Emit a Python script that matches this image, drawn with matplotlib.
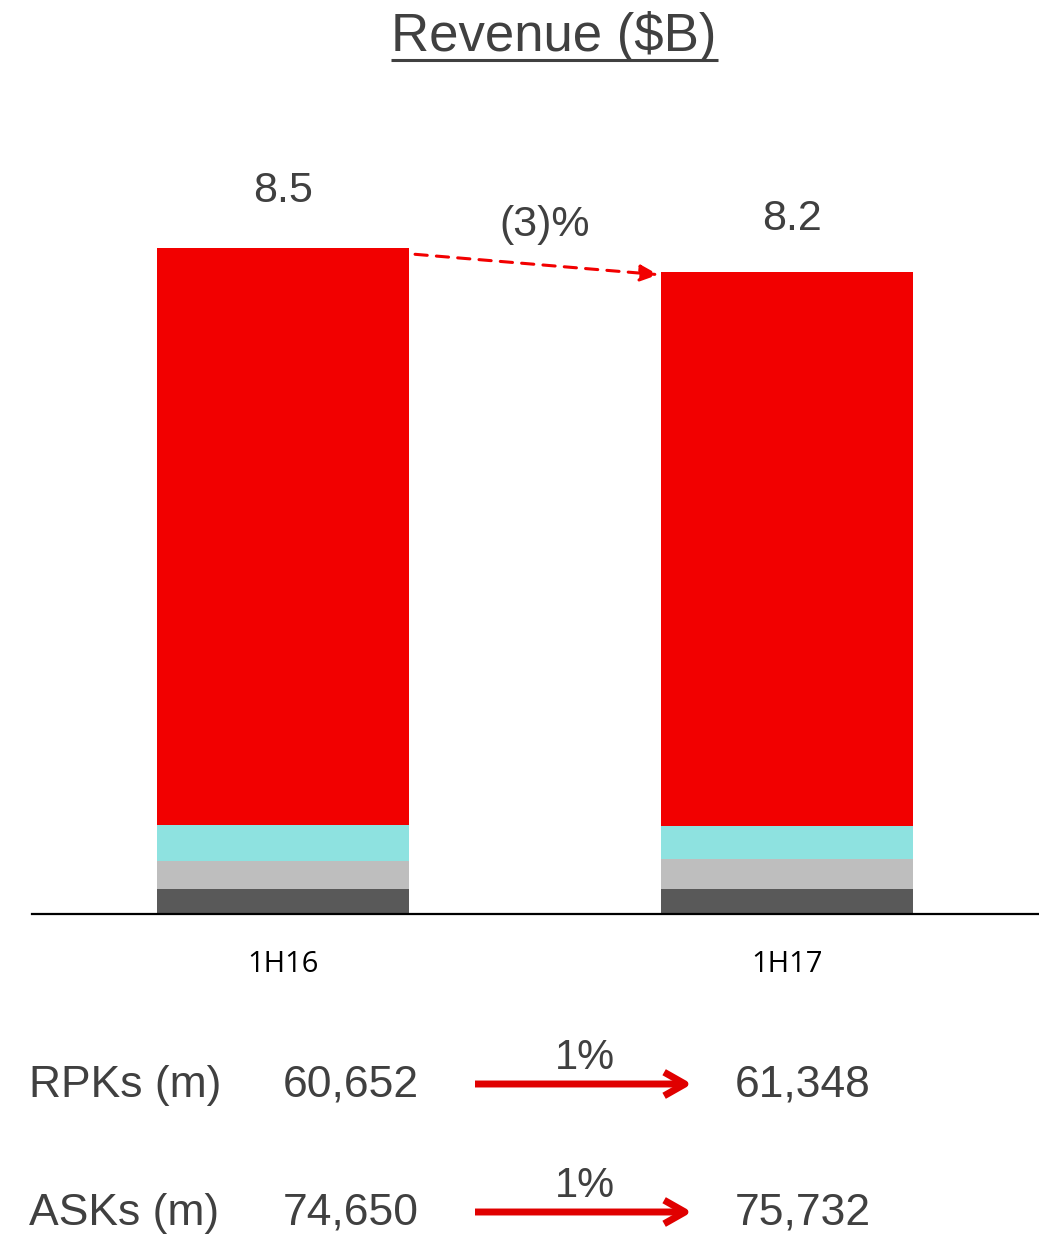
import matplotlib
matplotlib.use('Agg')
import matplotlib.pyplot as plt
import numpy as np

# revenue split by segment ($B), bottom to top
periods = ['1H16', '1H17']
seg_dark = [0.32, 0.32]
seg_grey = [0.36, 0.38]
seg_cyan = [0.46, 0.42]
seg_red = [7.36, 7.08]
totals = [8.5, 8.2]
change = '(3)%'

# traffic and capacity
rpks = ['60,652', '61,348']
asks = ['74,650', '75,732']
rpk_change = '1%'
ask_change = '1%'

txt = '#404040'
red = '#F20000'
plt.rcParams['font.family'] = ['Liberation Sans', 'DejaVu Sans']

fig = plt.figure(figsize=(10.39, 12.34), dpi=100)
W, H = 1039, 1234

# bar axes: baseline at y=914px, spanning x 32..1039px
ax = fig.add_axes([32 / W, 1 - 914 / H, 1007 / W, 814 / H])
scale = 78.35  # px per $B
ax.set_ylim(0, 814 / scale)
ax.set_xlim((32 - 283) / 504, (1039 - 283) / 504)

x = np.arange(len(periods))
colors = ['#595959', '#BEBEBE', '#8EE2E0', red]
bottom = np.zeros(len(periods))
for vals, c in zip([seg_dark, seg_grey, seg_cyan, seg_red], colors):
    ax.bar(x, vals, width=0.5, bottom=bottom, color=c, linewidth=0)
    bottom += np.array(vals)

for s in ['top', 'left', 'right']:
    ax.spines[s].set_visible(False)
ax.spines['bottom'].set_linewidth(1.6)
ax.set_yticks([])
ax.set_xticks([])

ax.text(x[0], totals[0] + 0.47, f'{totals[0]:.1f}', ha='center', va='bottom',
        fontsize=31, color=txt)
ax.text(x[1] + 0.01, totals[1] + 0.42, f'{totals[1]:.1f}', ha='center', va='bottom',
        fontsize=31, color=txt)
ax.text(0.52, 8.54, change, ha='center', va='bottom', fontsize=31, color=txt)

ax.annotate('', xy=(0.745, totals[1] - 0.04), xytext=(0.262, totals[0] - 0.08),
            arrowprops=dict(arrowstyle='-|>,head_length=1.1,head_width=0.5',
                            color=red, lw=2.2, linestyle=(0, (4, 3)),
                            shrinkA=0, shrinkB=0))

for xi, lab in zip(x, periods):
    ax.text(xi, -0.64, lab, ha='center', va='center', fontsize=21,
            color='black', family=['Open Sans', 'DejaVu Sans'])

# overlay in pixel coordinates for title and the table below
ov = fig.add_axes([0, 0, 1, 1])
ov.set_xlim(0, W)
ov.set_ylim(H, 0)
ov.axis('off')

ov.text(554, 36, 'Revenue ($B)', ha='center', va='center', fontsize=38, color=txt)
ov.plot([391, 718], [60, 60], color=txt, lw=2.2, solid_capstyle='butt')

# y values are text baselines
rows = [('RPKs (m)', rpks, rpk_change, 1097), ('ASKs (m)', asks, ask_change, 1225)]
for name, vals, pct, yb in rows:
    ov.text(29, yb, name, ha='left', va='baseline', fontsize=32, color=txt)
    ov.text(351, yb, vals[0], ha='center', va='baseline', fontsize=32, color=txt)
    ov.text(803, yb, vals[1], ha='center', va='baseline', fontsize=32, color=txt)
    ov.text(585, yb - 28, pct, ha='center', va='baseline', fontsize=30, color=txt)
    ov.annotate('', xy=(692, yb - 13), xytext=(475, yb - 13),
                arrowprops=dict(arrowstyle='->,head_length=1.5,head_width=0.85',
                                color='#E00000', lw=5, shrinkA=0, shrinkB=0,
                                capstyle='butt', joinstyle='round'))

fig.savefig('out.png', dpi=100)
